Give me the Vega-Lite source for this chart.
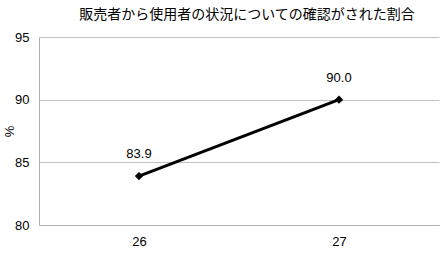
{
  "$schema": "https://vega.github.io/schema/vega-lite/v6.json",
  "autosize": "none",
  "width": 400,
  "height": 188,
  "padding": {"left": 39, "top": 37, "right": 8, "bottom": 29},
  "background": "white",
  "title": {
    "text": "販売者から使用者の状況についての確認がされた割合",
    "font": "Noto Sans CJK JP",
    "fontSize": 14,
    "fontWeight": "normal",
    "color": "black",
    "anchor": "middle",
    "frame": "group",
    "dx": 8,
    "offset": 9
  },
  "config": {
    "view": {"stroke": null},
    "axis": {"labelFont": "Liberation Sans", "titleFont": "Liberation Sans", "labelColor": "black", "titleColor": "black"}
  },
  "data": {"values": [
    {"year": "26", "pct": 83.9},
    {"year": "27", "pct": 90.0}
  ]},
  "encoding": {
    "x": {"field": "year", "type": "ordinal", "scale": {"paddingInner": 0, "paddingOuter": 0},
      "axis": {"title": null, "labelAngle": 0, "ticks": false, "domainColor": "#b0b0b0", "labelFontSize": 13, "labelPadding": 10, "grid": false}},
    "y": {"field": "pct", "type": "quantitative", "scale": {"domain": [80, 95], "zero": false, "nice": false},
      "axis": {"title": "%", "titleFontWeight": "normal", "titleFontSize": 13, "titleAngle": -90, "titleX": -30, "titleY": 94, "titleBaseline": "middle", "titleAlign": "center", "values": [80, 85, 90, 95], "ticks": false, "domainColor": "#b0b0b0", "gridColor": "#c0c0c0", "labelFontSize": 13, "labelPadding": 10}}
  },
  "layer": [
    {"mark": {"type": "line", "color": "black", "strokeWidth": 3}},
    {"mark": {"type": "point", "shape": "diamond", "filled": true, "color": "black", "size": 70, "opacity": 1}},
    {"mark": {"type": "text", "dy": -22, "font": "Liberation Sans", "fontSize": 13, "color": "black"},
      "encoding": {"text": {"field": "pct", "type": "quantitative", "format": ".1f"}}}
  ]
}
